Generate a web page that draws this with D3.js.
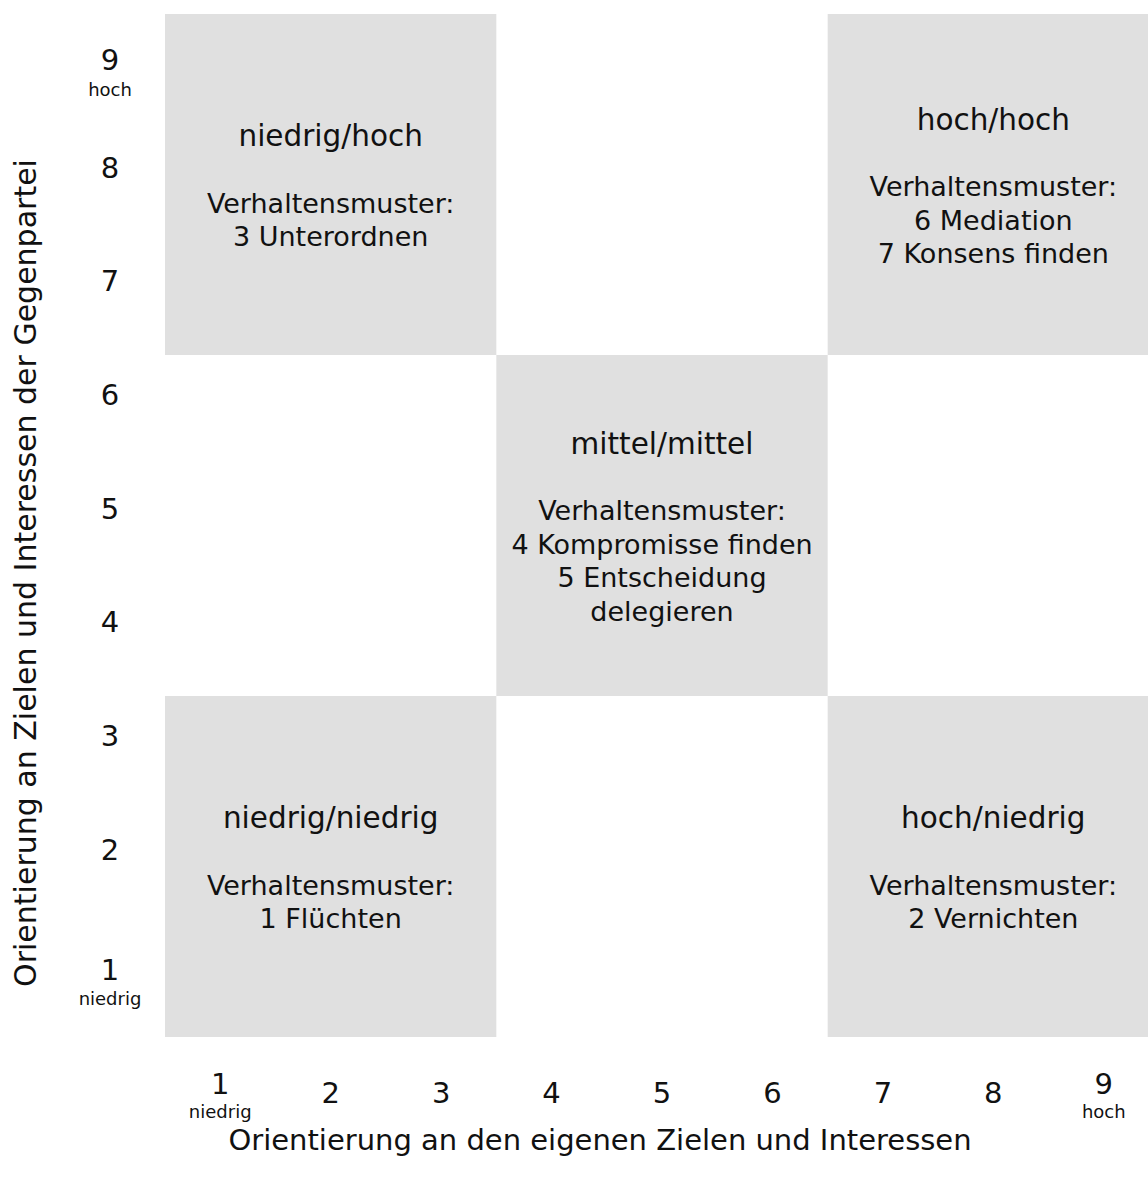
<!DOCTYPE html>
<html>
<head>
<meta charset="utf-8">
<script src="https://cdn.jsdelivr.net/npm/d3@7"></script>
<style>
  html, body { margin: 0; padding: 0; background: #fff; }
  svg { display: block; }
  text { font-family: "DejaVu Sans", Verdana, sans-serif; fill: #111; }
</style>
</head>
<body>
<svg id="chart" width="1148" height="1184"></svg>
<script>
// ---- data ----
const xTicks = [1, 2, 3, 4, 5, 6, 7, 8, 9];
const yTicks = [1, 2, 3, 4, 5, 6, 7, 8, 9];
const tickSubLabels = { 1: "niedrig", 9: "hoch" };
const xTitle = "Orientierung an den eigenen Zielen und Interessen";
const yTitle = "Orientierung an Zielen und Interessen der Gegenpartei";

// cells: extents in axis units
const cellX0 = [0.5, 6.5, 3.5, 0.5, 6.5];
const cellX1 = [3.5, 9.5, 6.5, 3.5, 9.5];
const cellY0 = [6.5, 6.5, 3.5, 0.5, 0.5];
const cellY1 = [9.5, 9.5, 6.5, 3.5, 3.5];
const cellTitles = ["niedrig/hoch", "hoch/hoch", "mittel/mittel", "niedrig/niedrig", "hoch/niedrig"];
const cellPatterns = [
  ["3 Unterordnen"],
  ["6 Mediation", "7 Konsens finden"],
  ["4 Kompromisse finden", "5 Entscheidung", "delegieren"],
  ["1 Flüchten"],
  ["2 Vernichten"]
];
const patternHeading = "Verhaltensmuster:";

// ---- layout ----
const svg = d3.select("#chart");
const x = d3.scaleLinear().domain([0.5, 9.5]).range([165, 1159]);
const y = d3.scaleLinear().domain([0.5, 9.5]).range([1037, 14]);

const cells = cellTitles.map((t, i) => ({
  x0: cellX0[i], x1: cellX1[i], y0: cellY0[i], y1: cellY1[i],
  lines: [t, "", patternHeading].concat(cellPatterns[i])
}));

const g = svg.append("g");
g.selectAll("rect.cell").data(cells).join("rect")
  .attr("class", "cell")
  .attr("x", d => x(d.x0))
  .attr("y", d => y(d.y1))
  .attr("width", d => x(d.x1) - x(d.x0))
  .attr("height", d => y(d.y0) - y(d.y1))
  .attr("fill", "#e0e0e0");

const lh = 33.5;
cells.forEach(d => {
  const cx = (x(d.x0) + x(d.x1)) / 2;
  const cy = (y(d.y0) + y(d.y1)) / 2 + 2;
  const n = d.lines.length;
  g.append("text")
    .attr("text-anchor", "middle")
    .style("font-size", "27px")
    .selectAll("tspan").data(d.lines).join("tspan")
    .attr("x", cx)
    .attr("y", (l, i) => cy + (i - (n - 1) / 2) * lh)
    .attr("dominant-baseline", "central")
    .style("font-size", (l, i) => i === 0 ? "29.5px" : "27px")
    .text(l => l);
});

// x axis labels
const xa = svg.append("g");
xTicks.forEach(t => {
  const sub = tickSubLabels[t];
  const px = x(t);
  xa.append("text")
    .attr("x", px).attr("y", 1037 + (sub ? 47 : 56))
    .attr("text-anchor", "middle").attr("dominant-baseline", "central")
    .style("font-size", "29px").text(t);
  if (sub) {
    xa.append("text")
      .attr("x", px).attr("y", 1037 + 74)
      .attr("text-anchor", "middle").attr("dominant-baseline", "central")
      .style("font-size", "18px").text(sub);
  }
});

// y axis labels
const ya = svg.append("g");
yTicks.forEach(t => {
  const sub = tickSubLabels[t];
  const py = y(t);
  ya.append("text")
    .attr("x", 110).attr("y", py + (sub ? -10.5 : -17))
    .attr("text-anchor", "middle").attr("dominant-baseline", "central")
    .style("font-size", "29px").text(t);
  if (sub) {
    ya.append("text")
      .attr("x", 110).attr("y", py + 18.5)
      .attr("text-anchor", "middle").attr("dominant-baseline", "central")
      .style("font-size", "18px").text(sub);
  }
});

// axis titles
svg.append("text")
  .attr("x", 600).attr("y", 1150)
  .attr("text-anchor", "middle")
  .style("font-size", "29px")
  .text(xTitle);

svg.append("text")
  .attr("transform", "translate(36,573) rotate(-90)")
  .attr("text-anchor", "middle")
  .style("font-size", "30px")
  .text(yTitle);
</script>
</body>
</html>
